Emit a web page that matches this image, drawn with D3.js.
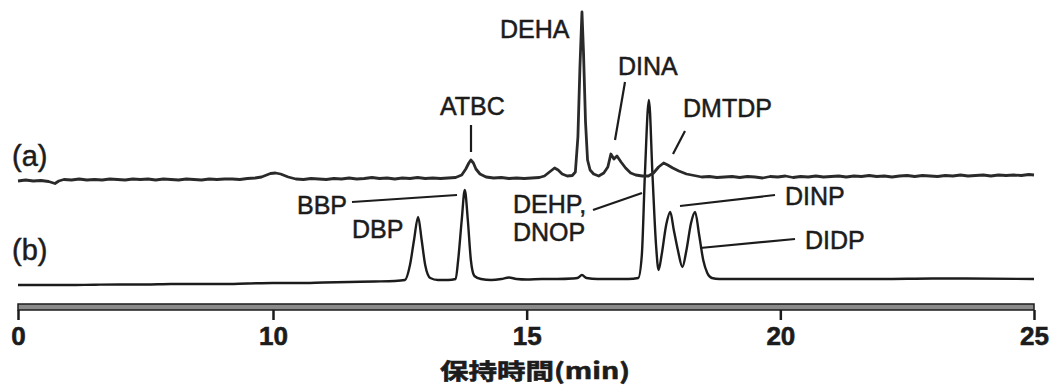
<!DOCTYPE html>
<html>
<head>
<meta charset="utf-8">
<script src="https://cdn.jsdelivr.net/npm/d3@7"></script>
<style>
  html, body { margin: 0; padding: 0; background: #fff; }
  svg { display: block; }
</style>
</head>
<body>
<svg id="chart" width="1053" height="387"></svg>
<script>
// ---------------- DATA ----------------
const xTicks = [0, 10, 15, 20, 25];
const xTitle = "保持時間(min)";
const traceNames = ["(a)", "(b)"];

// trace (a): [retention time (min), signal]
const traceA = [
  [0,1],[0.3,2],[0.6,1],[0.9,1.5],[1.2,0.5],[1.45,-1.5],[1.6,1],[1.8,2.5],[2.1,2],[2.4,3],
  [2.7,2],[3.0,2.5],[3.3,2],[3.6,3],[3.9,2.5],[4.2,2],[4.5,3],[4.8,2.5],[5.1,3],[5.4,2],
  [5.7,3],[6.0,2.5],[6.3,2],[6.6,3],[6.9,2.5],[7.2,2],[7.5,3],[7.8,2.5],[8.1,3],[8.4,3],
  [8.7,2.5],[9.0,3.5],[9.3,4],[9.55,5],[9.75,7],[9.9,8.5],[10.05,9],[10.15,8],[10.3,5],[10.45,3],
  [10.6,2.5],[10.75,3.5],[10.9,3],[11.05,2.5],[11.2,3.5],[11.35,3],[11.5,4],[11.65,3],[11.8,3.5],[11.95,4.5],
  [12.1,3.5],[12.25,4],[12.4,3],[12.55,4],[12.7,3.5],[12.85,4.5],[13.0,3.5],[13.15,4],[13.3,3.5],[13.45,4],
  [13.6,4.5],[13.72,7],[13.8,13],[13.86,19],[13.9,22],[13.95,19],[14.0,13],[14.08,8],[14.2,5],[14.35,4],
  [14.5,4.5],[14.65,3.5],[14.8,4],[14.95,3.5],[15.1,4],[15.25,4.5],[15.35,6],[15.45,10],[15.55,14],[15.62,12],
  [15.7,8],[15.8,6],[15.9,6.5],[15.96,10],[16.01,45],[16.05,115],[16.09,170],[16.12,130],[16.16,60],[16.2,22],
  [16.25,12],[16.32,8],[16.42,6],[16.52,9],[16.6,15],[16.66,28],[16.72,23],[16.78,26],[16.86,20],[16.95,14],
  [17.05,9],[17.15,7],[17.28,6],[17.4,6],[17.5,9],[17.6,15],[17.7,19],[17.78,17],[17.88,14],[18.0,11],
  [18.15,8],[18.3,6.5],[18.45,5],[18.6,5.5],[18.75,4.5],[18.9,5],[19.05,5.5],[19.2,4.5],[19.35,5.5],[19.5,5],
  [19.65,4],[19.8,5.5],[19.95,5],[20.1,6],[20.25,4.5],[20.4,5.5],[20.55,5],[20.7,6],[20.85,5],[21.0,5.5],
  [21.15,6],[21.3,5],[21.45,6],[21.6,5.5],[21.75,6.5],[21.9,5.5],[22.05,6],[22.2,5],[22.35,6],[22.5,6.5],
  [22.65,5.5],[22.8,6.5],[22.95,6],[23.1,5.5],[23.25,6.5],[23.4,6],[23.55,7],[23.7,6],[23.85,6.5],[24.0,7],
  [24.15,6],[24.3,7],[24.45,6.5],[24.6,7],[24.75,6.5],[24.9,7.5],[25.0,7]
];

// trace (b): [retention time (min), signal]
const traceB = [
  [0,0],[1,0],[2,0],[3,0.3],[4,0.5],[5,0.5],[6,1],[7,1],[8,1],[9,1.5],
  [10,2],[10.5,2],[11,2.5],[11.5,3],[12,3.5],[12.4,4],[12.6,5],[12.7,20],[12.78,45],[12.86,68],
  [12.93,45],[13.0,20],[13.1,7],[13.25,5],[13.45,5],[13.6,6],[13.65,25],[13.72,65],[13.78,95],[13.84,65],
  [13.9,25],[13.97,9],[14.1,6],[14.3,5],[14.5,6],[14.65,7.5],[14.8,6],[15.0,5.5],[15.3,6],[15.6,6],
  [15.9,6.5],[16.0,7],[16.09,10],[16.18,7],[16.4,6],[16.7,6],[17.0,6],[17.2,7],[17.27,30],[17.33,110],
  [17.41,185],[17.48,110],[17.55,40],[17.6,15],[17.66,30],[17.75,60],[17.83,73],[17.9,55],[17.98,35],[18.07,18],
  [18.15,35],[18.24,62],[18.32,73],[18.4,50],[18.48,25],[18.56,12],[18.65,7],[18.8,6],[19.5,6],[20.5,6],
  [22,6],[23,6.5],[25,6]
];

const peakLabels = ["DEHA", "ATBC", "DINA", "DMTDP", "BBP", "DBP", "DEHP,", "DNOP", "DINP", "DIDP"];

// ---------------- LAYOUT ----------------
const svg = d3.select("#chart");

// time axis (0-10 segment compressed in the original figure)
const x = d3.scaleLinear().domain([0, 10, 25]).range([18, 273, 1034]);
const yA = d3.scaleLinear().domain([0, 170]).range([182, 12]);
const yB = d3.scaleLinear().domain([0, 185]).range([285, 100]);

const ink = "#1c1c1c";

const lineA = d3.line().x(d => x(d[0])).y(d => yA(d[1])).curve(d3.curveLinear);
const lineB = d3.line().x(d => x(d[0])).y(d => yB(d[1])).curve(d3.curveMonotoneX);

svg.append("path").datum(traceB).attr("d", lineB)
  .attr("fill", "none").attr("stroke", ink).attr("stroke-width", 2.4).attr("stroke-linejoin", "round");
svg.append("path").datum(traceA).attr("d", lineA)
  .attr("fill", "none").attr("stroke", "#2a2a2a").attr("stroke-width", 2.8).attr("stroke-linejoin", "round");

// axis
const axisY = 304;
svg.append("rect")
  .attr("x", x(0)).attr("y", axisY).attr("width", x(25) - x(0)).attr("height", 6)
  .attr("fill", "#8a8a8a").attr("stroke", ink).attr("stroke-width", 1.5);

const axis = d3.axisBottom(x).tickValues(xTicks).tickSize(10).tickSizeOuter(0).tickFormat(d3.format("d"));
const gAxis = svg.append("g").attr("transform", `translate(0,${axisY + 6})`).call(axis);
gAxis.select(".domain").remove();
gAxis.selectAll(".tick line").attr("stroke", ink).attr("stroke-width", 2.5);
gAxis.selectAll(".tick text")
  .attr("y", 0).attr("dy", 0)
  .attr("transform", "translate(0,35)")
  .attr("fill", ink)
  .attr("stroke", ink).attr("stroke-width", 0.6)
  .style("font-family", "'Liberation Sans', Arial, sans-serif")
  .style("font-weight", "bold")
  .style("font-size", "26px");

svg.append("text")
  .attr("x", 535).attr("y", 379)
  .attr("text-anchor", "middle")
  .attr("textLength", 190).attr("lengthAdjust", "spacingAndGlyphs")
  .attr("fill", ink)
  .attr("stroke", ink).attr("stroke-width", 0.6)
  .style("font-family", "'Noto Sans CJK JP', 'Liberation Sans', sans-serif")
  .style("font-weight", "bold")
  .style("font-size", "22px")
  .text(xTitle);

// trace labels
const traceLabelPos = [[12, 166], [12, 260]];
traceNames.forEach((t, i) => {
  svg.append("text")
    .attr("x", traceLabelPos[i][0]).attr("y", traceLabelPos[i][1])
    .attr("fill", ink)
    .attr("stroke", ink).attr("stroke-width", 0.5)
    .style("font-family", "'Liberation Sans', Arial, sans-serif")
    .style("font-size", "29px")
    .text(t);
});

// peak labels
const labelPos = {
  "DEHA": [500, 38], "ATBC": [440, 115], "DINA": [618, 75], "DMTDP": [683, 117],
  "BBP": [297, 214], "DBP": [352, 238], "DEHP,": [513, 213], "DNOP": [513, 241],
  "DINP": [785, 205], "DIDP": [805, 249]
};
peakLabels.forEach(n => {
  svg.append("text")
    .attr("x", labelPos[n][0]).attr("y", labelPos[n][1])
    .attr("fill", ink)
    .attr("stroke", ink).attr("stroke-width", 0.5)
    .style("font-family", "'Liberation Sans', Arial, sans-serif")
    .style("font-size", "25px")
    .text(n);
});

// leader lines
const leaders = [
  [471, 125, 471, 152], [625, 82, 615, 140], [685, 131, 673, 154],
  [352, 202, 457, 195], [593, 210, 642, 193], [680, 206, 775, 195], [700, 248, 795, 239]
];
svg.selectAll("line.leader").data(leaders).enter().append("line")
  .attr("class", "leader")
  .attr("x1", d => d[0]).attr("y1", d => d[1]).attr("x2", d => d[2]).attr("y2", d => d[3])
  .attr("stroke", ink).attr("stroke-width", 2.2);
</script>
</body>
</html>
